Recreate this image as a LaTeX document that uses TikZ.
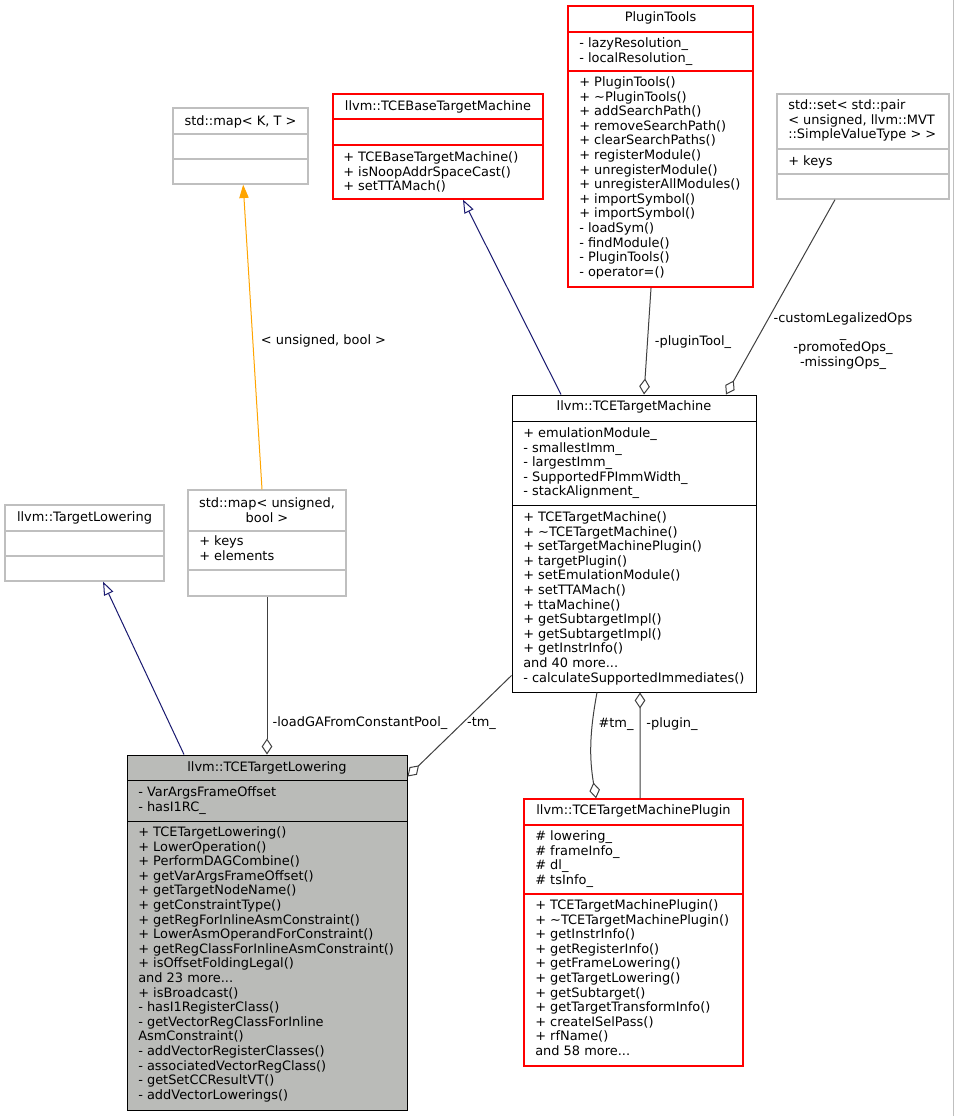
\documentclass[tikz,border=0pt]{standalone}
\usepackage{fontspec}
\setmainfont{DejaVu Sans}
\usetikzlibrary{arrows.meta,fit}

\definecolor{edgegray}{HTML}{404040}
\definecolor{boxgray}{HTML}{BFBFBF}
\definecolor{navyline}{HTML}{191970}
\definecolor{tmplorange}{HTML}{FFA500}
\definecolor{lowerfill}{HTML}{BABBB8}

\newcommand{\etcdots}{...}

\begin{document}
\begin{tikzpicture}[x=0.75pt, y=-0.75pt,
    every node/.style={font=\fontsize{9.7}{11}\selectfont, inner sep=0pt},
    graybox/.style={draw=boxgray, line width=1pt},
    redbox/.style={draw=red, line width=1pt},
    blackbox/.style={draw=black, line width=0.75pt},
    title/.style={anchor=base},
    member/.style={anchor=base west},
    inherit/.style={draw=navyline, line width=0.75pt, -{Triangle[open, length=10pt, width=7.5pt]}},
    aggr/.style={draw=edgegray, line width=0.75pt, {Diamond[open, length=12pt, width=8pt]}-},
    templ/.style={draw=tmplorange, line width=0.75pt, -{Triangle[length=10pt, width=7pt]}},
    elabel/.style={anchor=base}]

  \useasboundingbox (0,0) rectangle (955,1116);
  \fill[white] (0,0) rectangle (955,1116);
  \draw[boxgray, line width=0.75pt] (953.5,0) -- (953.5,1116);

  % class boxes
  \node[graybox, fit={(173,108) (308,184)}] (map-kt) {};
  \node[redbox, fit={(333,94) (543,199)}] (base-tm) {};
  \node[redbox, fit={(568,6) (753,287)}] (plugin-tools) {};
  \node[graybox, fit={(777,94) (949,199)}] (std-set) {};
  \node[graybox, fit={(5,505) (164,581)}] (target-lowering) {};
  \node[graybox, fit={(188,490) (346,596)}] (map-ub) {};
  \node[blackbox, fill=lowerfill, fit={(127,755) (407,1110)}] (tce-lowering) {};
  \node[blackbox, fit={(512,395) (756,692)}] (tce-tm) {};
  \node[redbox, fit={(524,799) (743,1066)}] (tm-plugin) {};

  % compartment lines
  \foreach \ya in {134,159}
    \draw[boxgray, line width=1pt] (173,\ya) -- (308,\ya);
  \foreach \ya in {119,145}
    \draw[red, line width=1pt] (333,\ya) -- (543,\ya);
  \foreach \ya in {32,71}
    \draw[red, line width=1pt] (568,\ya) -- (753,\ya);
  \foreach \ya in {149,174}
    \draw[boxgray, line width=1pt] (777,\ya) -- (949,\ya);
  \foreach \ya in {531,556}
    \draw[boxgray, line width=1pt] (5,\ya) -- (164,\ya);
  \foreach \ya in {531,570}
    \draw[boxgray, line width=1pt] (188,\ya) -- (346,\ya);
  \foreach \ya in {780,821}
    \draw[line width=0.75pt] (127,\ya) -- (407,\ya);
  \foreach \ya in {421,505}
    \draw[line width=0.75pt] (512,\ya) -- (756,\ya);
  \foreach \ya in {825,894}
    \draw[red, line width=1pt] (524,\ya) -- (743,\ya);

  % class texts
  \node[title] (map-kt-t) at (240.5,125.5) {std::map< K, T >};

  \node[title] (base-tm-t) at (438,110.5) {llvm::TCEBaseTargetMachine};
  \foreach \t [count=\i from 0] in {+ TCEBaseTargetMachine(), + isNoopAddrSpaceCast(), + setTTAMach()}
    \node[member] (base-tm-m\i) at (343,161.5+\i*14.6) {\t};

  \node[title] (plugin-tools-t) at (660.5,21.5) {PluginTools};
  \foreach \t [count=\i from 0] in {- lazyResolution\_, - localResolution\_}
    \node[member] (plugin-tools-f\i) at (579,47.5+\i*14.6) {\t};
  \foreach \t [count=\i from 0] in {+ PluginTools(), + \textasciitilde PluginTools(), + addSearchPath(),
      + removeSearchPath(), + clearSearchPaths(), + registerModule(), + unregisterModule(),
      + unregisterAllModules(), + importSymbol(), + importSymbol(), - loadSym(), - findModule(),
      - PluginTools(), - operator=()}
    \node[member] (plugin-tools-m\i) at (579,86.5+\i*14.6) {\t};

  \foreach \t [count=\i from 0] in {std::set< std::pair, {< unsigned, llvm::MVT}, ::SimpleValueType > >}
    \node[member] (std-set-t\i) at (788,109.5+\i*14.6) {\t};
  \node[member] (std-set-f0) at (788,165.5) {+ keys};

  \node[title] (target-lowering-t) at (84.5,521.5) {llvm::TargetLowering};

  \foreach \t [count=\i from 0] in {{std::map< unsigned,}, bool >}
    \node[title] (map-ub-t\i) at (267,507.5+\i*14.6) {\t};
  \foreach \t [count=\i from 0] in {+ keys, + elements}
    \node[member] (map-ub-f\i) at (199,545.5+\i*14.6) {\t};

  \node[title] (tce-lowering-t) at (267,771.5) {llvm::TCETargetLowering};
  \foreach \t [count=\i from 0] in {- VarArgsFrameOffset, - hasI1RC\_}
    \node[member] (tce-lowering-f\i) at (138,796.5+\i*14.6) {\t};
  \foreach \t [count=\i from 0] in {+ TCETargetLowering(), + LowerOperation(), + PerformDAGCombine(),
      + getVarArgsFrameOffset(), + getTargetNodeName(), + getConstraintType(),
      + getRegForInlineAsmConstraint(), + LowerAsmOperandForConstraint(),
      + getRegClassForInlineAsmConstraint(), + isOffsetFoldingLegal(), and 23 more\etcdots,
      + isBroadcast(), - hasI1RegisterClass(), - getVectorRegClassForInline, AsmConstraint(),
      - addVectorRegisterClasses(), - associatedVectorRegClass(), - getSetCCResultVT(),
      - addVectorLowerings()}
    \node[member] (tce-lowering-m\i) at (138,836.5+\i*14.6) {\t};

  \node[title] (tce-tm-t) at (634,410.5) {llvm::TCETargetMachine};
  \foreach \t [count=\i from 0] in {+ emulationModule\_, - smallestImm\_, - largestImm\_,
      - SupportedFPImmWidth\_, - stackAlignment\_}
    \node[member] (tce-tm-f\i) at (523,437.5+\i*14.6) {\t};
  \foreach \t [count=\i from 0] in {+ TCETargetMachine(), + \textasciitilde TCETargetMachine(),
      + setTargetMachinePlugin(), + targetPlugin(), + setEmulationModule(), + setTTAMach(),
      + ttaMachine(), + getSubtargetImpl(), + getSubtargetImpl(), + getInstrInfo(),
      and 40 more\etcdots, - calculateSupportedImmediates()}
    \node[member] (tce-tm-m\i) at (523,521.5+\i*14.6) {\t};

  \node[title] (tm-plugin-t) at (633.5,814.5) {llvm::TCETargetMachinePlugin};
  \foreach \t [count=\i from 0] in {\# lowering\_, \# frameInfo\_, \# dl\_, \# tsInfo\_}
    \node[member] (tm-plugin-f\i) at (535,840.5+\i*14.6) {\t};
  \foreach \t [count=\i from 0] in {+ TCETargetMachinePlugin(), + \textasciitilde TCETargetMachinePlugin(),
      + getInstrInfo(), + getRegisterInfo(), + getFrameLowering(), + getTargetLowering(),
      + getSubtarget(), + getTargetTransformInfo(), + createISelPass(), + rfName(),
      and 58 more\etcdots}
    \node[member] (tm-plugin-m\i) at (535,909.5+\i*14.6) {\t};

  % connectors
  \draw[templ] ([xshift=-3.75pt]map-ub.north) -- ([xshift=2pt]map-kt.south);
  \draw[inherit] ([xshift=-62.25pt]tce-lowering.north) -- ([xshift=13.9pt]target-lowering.south);
  \draw[inherit] ([xshift=-54.75pt]tce-tm.north) -- ([xshift=18.75pt]base-tm.south);
  \draw[aggr] ([xshift=7.5pt]tce-tm.north) -- ([xshift=-7.1pt]plugin-tools.south);
  \draw[aggr] ([xshift=69pt]tce-tm.north) -- ([xshift=-21pt]std-set.south);
  \draw[aggr] (tce-lowering.north) -- (map-ub.south);
  \draw[aggr] ([yshift=-16.5pt]tce-lowering.north east) -- ([yshift=12.75pt]tce-tm.south west);
  \draw[aggr] ([xshift=-28.1pt]tm-plugin.north) to[bend left=10] ([xshift=-27.75pt]tce-tm.south);
  \draw[aggr] ([xshift=4.5pt]tce-tm.south) -- ([xshift=4.9pt]tm-plugin.north);

  % connector labels
  \node[elabel] (lbl-templ) at (323.5,344.5) {< unsigned, bool >};
  \node[elabel] (lbl-plugintool) at (693,345.5) {-pluginTool\_};
  \foreach \t [count=\i from 0] in {-customLegalizedOps, \_, -promotedOps\_, -missingOps\_}
    \node[elabel] (lbl-set\i) at (843,322.5+\i*14.6) {\t};
  \node[elabel] (lbl-loadga) at (360,726.5) {-loadGAFromConstantPool\_};
  \node[elabel] (lbl-tm) at (481.5,726.5) {-tm\_};
  \node[elabel] (lbl-ptm) at (616,727.5) {\#tm\_};
  \node[elabel] (lbl-plugin) at (672,727.5) {-plugin\_};

\end{tikzpicture}
\end{document}
